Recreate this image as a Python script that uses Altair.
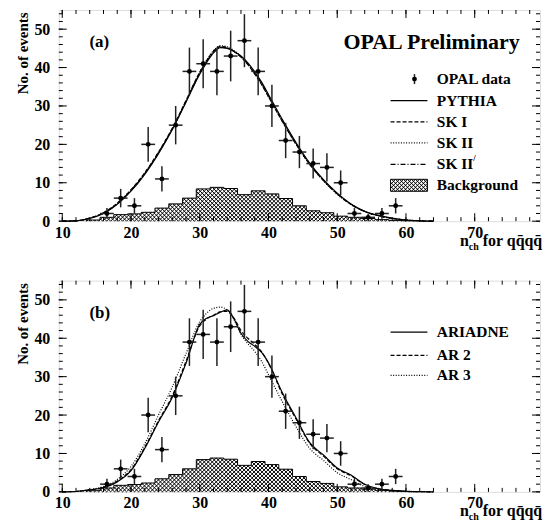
import math
import altair as alt
import numpy as np
import pandas as pd

# ---------------- data ----------------
nch_centers = [16.5, 18.5, 20.5, 22.5, 24.5, 26.5, 28.5, 30.5, 32.5, 34.5, 36.5,
               38.5, 40.5, 42.5, 44.5, 46.5, 48.5, 50.5, 52.5, 54.5, 56.5, 58.5]
opal_counts = [2, 6, 4, 20, 11, 25, 39, 41, 39, 43, 47, 39, 30, 21, 18, 15, 14, 10, 2, 1, 2, 4]
opal_errors = [1.4, 2.4, 2.0, 4.5, 3.3, 5.0, 6.2, 6.4, 6.2, 6.6, 6.9, 6.2, 5.5, 4.6,
               4.2, 3.9, 3.7, 3.2, 1.4, 1.0, 1.4, 2.0]
bin_half_width = 1.0

bkg_centers = [14.5, 16.5, 18.5, 20.5, 22.5, 24.5, 26.5, 28.5, 30.5, 32.5, 34.5, 36.5,
               38.5, 40.5, 42.5, 44.5, 46.5, 48.5, 50.5, 52.5, 54.5, 56.5, 58.5, 60.5]
bkg_values = [0.3, 1.0, 1.7, 1.9, 2.3, 3.4, 4.5, 6.0, 8.4, 8.8, 8.5, 6.9,
              7.9, 7.1, 5.9, 4.0, 2.7, 2.2, 1.3, 1.0, 0.7, 0.4, 0.2, 0.1]

curve_x = [10, 12, 14, 16, 18, 20, 22, 24, 26, 28, 30, 31, 32, 33, 34, 35, 36, 37, 38, 39,
           40, 42, 44, 46, 48, 50, 52, 54, 56, 58, 60, 62, 64]
pythia = [0, 0.1, 0.7, 2.0, 4.4, 7.8, 12.2, 17.6, 23.8, 31.0, 38.3, 41.3, 43.8, 45.2, 45.0, 44.2,
          43.0, 41.2, 38.9, 36.2, 33.0, 26.5, 20.5, 15.1, 10.8, 7.3, 4.5, 2.6, 1.5, 0.8, 0.3, 0.1, 0]
sk1 = [0, 0.1, 0.8, 2.2, 4.7, 8.2, 12.6, 18.0, 24.2, 31.4, 38.8, 41.8, 44.3, 45.5, 45.2, 44.2,
       42.7, 40.8, 38.3, 35.6, 32.4, 26.0, 20.1, 14.8, 10.6, 7.1, 4.4, 2.5, 1.4, 0.7, 0.3, 0.1, 0]
sk2 = [0, 0.1, 0.8, 2.1, 4.6, 8.1, 12.5, 17.9, 24.1, 31.3, 38.8, 41.9, 44.4, 45.7, 45.4, 44.4,
       42.9, 40.9, 38.4, 35.6, 32.4, 26.0, 20.0, 14.7, 10.5, 7.0, 4.3, 2.5, 1.4, 0.7, 0.3, 0.1, 0]
sk2p = [0, 0.1, 0.8, 2.1, 4.5, 8.0, 12.4, 17.8, 24.0, 31.2, 38.6, 41.6, 44.1, 45.3, 45.1, 44.2,
        42.8, 40.8, 38.5, 35.8, 32.6, 26.2, 20.2, 14.9, 10.6, 7.1, 4.4, 2.5, 1.4, 0.7, 0.3, 0.1, 0]
ariadne = [0, 0.1, 0.5, 1.1, 2.6, 5.5, 11.3, 18.2, 24.6, 33.5, 43.6, 45.2, 45.9, 46.8, 47.4, 45.0,
           41.3, 39.2, 37.9, 36.3, 33.6, 25.9, 19.3, 12.8, 9.6, 6.2, 4.4, 2.0, 0.8, 0.4, 0.15, 0.05, 0]
ar2 = [0, 0.1, 0.5, 1.2, 2.8, 5.8, 11.6, 18.5, 25.0, 34.0, 43.2, 45.0, 46.0, 46.9, 47.0, 45.2,
       42.0, 40.0, 38.4, 36.5, 33.5, 25.5, 19.0, 12.6, 9.3, 6.0, 4.2, 1.9, 0.8, 0.4, 0.15, 0.05, 0]
ar3 = [0, 0.1, 0.6, 1.4, 3.2, 6.6, 12.5, 20.0, 27.3, 36.0, 44.3, 46.5, 47.8, 48.1, 47.3, 44.8,
       41.0, 38.6, 36.6, 34.0, 30.5, 23.5, 17.0, 11.3, 8.2, 5.0, 3.2, 1.4, 0.6, 0.3, 0.1, 0.05, 0]

x_label_values = [10, 20, 30, 40, 50, 60, 70]
y_label_values = [0, 10, 20, 30, 40, 50]
x_minor_ticks = list(range(10, 80, 2))
y_minor_ticks = list(range(0, 56, 2))

# ---------------- layout / style ----------------
W, H = 483, 212
XDOM = [9.5, 79.5]
YDOM = [0, 55]
FONT = "Liberation Serif"
SX = W / (XDOM[1] - XDOM[0])
SY = H / (YDOM[1] - YDOM[0])

xscale = alt.Scale(domain=XDOM, nice=False, zero=False)
yscale = alt.Scale(domain=YDOM, nice=False, zero=False)
xaxis = alt.Axis(values=x_label_values, ticks=False, domain=False, grid=False,
                 labelFont=FONT, labelFontWeight="bold", labelFontSize=16,
                 labelPadding=3, labelColor="black", labelFlush=False, title=None)
yaxis = alt.Axis(values=y_label_values, ticks=False, domain=False, grid=False,
                 labelFont=FONT, labelFontWeight="bold", labelFontSize=16,
                 labelPadding=9, labelColor="black",
                 title="No. of events", titleFont=FONT, titleFontWeight="bold",
                 titleFontSize=15, titleColor="black", titleAngle=-90,
                 titleX=-36, titleY=2, titleAlign="right", titleBaseline="middle")


def X(field):
    return alt.X(field, type="quantitative", scale=xscale, axis=xaxis)


def Y(field):
    return alt.Y(field, type="quantitative", scale=yscale, axis=yaxis)


def one():
    return alt.Chart(pd.DataFrame({"k": [0]}))


def hatch_segments(rects, period=4.0):
    """Cross-hatch (45 degree) line segments clipped to rectangles given in data units."""
    out = []
    for xa, xb, ya, yb in rects:
        Xa, Xb = (xa - XDOM[0]) * SX, (xb - XDOM[0]) * SX
        Ya, Yb = ya * SY, yb * SY
        if Yb - Ya <= 0:
            continue
        # family X + Y = c
        for k in range(math.ceil((Xa + Ya) / period), math.floor((Xb + Yb) / period) + 1):
            c = k * period
            lo, hi = max(Xa, c - Yb), min(Xb, c - Ya)
            if hi - lo > 1e-6:
                out.append((lo, c - lo, hi, c - hi))
        # family X - Y = c
        for k in range(math.ceil((Xa - Yb) / period), math.floor((Xb - Ya) / period) + 1):
            c = k * period
            lo, hi = max(Xa, c + Ya), min(Xb, c + Yb)
            if hi - lo > 1e-6:
                out.append((lo, lo - c, hi, hi - c))
    df = pd.DataFrame(out, columns=["X1", "Y1", "X2", "Y2"])
    return pd.DataFrame({"x1": df.X1 / SX + XDOM[0], "y1": df.Y1 / SY,
                         "x2": df.X2 / SX + XDOM[0], "y2": df.Y2 / SY})


def hatch_layer(rects):
    df = hatch_segments(rects)
    return alt.Chart(df).mark_rule(color="black", strokeWidth=1.0).encode(
        x=X("x1"), x2="x2", y=Y("y1"), y2="y2")


def background_layers():
    rects = [(c - 1, c + 1, 0.0, v) for c, v in zip(bkg_centers, bkg_values)]
    xs = [c - 1 for c in bkg_centers] + [bkg_centers[-1] + 1]
    ox = [xs[0]] + xs + [xs[-1]]
    oy = [0] + bkg_values + [bkg_values[-1], 0]
    odf = pd.DataFrame({"x": ox, "y": oy, "i": list(range(len(ox)))})
    outline = alt.Chart(odf).mark_line(interpolate="step-after", color="black", strokeWidth=1).encode(
        x=X("x"), y=Y("y"), order="i:Q")
    return [hatch_layer(rects), outline]


def curve_layer(values, dash):
    df = pd.DataFrame({"x": curve_x, "y": values})
    kw = dict(color="black", strokeWidth=1.2, interpolate="monotone")
    if dash:
        kw["strokeDash"] = dash
    return alt.Chart(df).mark_line(**kw).encode(x=X("x"), y=Y("y"))


def data_layers():
    df = pd.DataFrame({"x": nch_centers, "y": opal_counts, "e": opal_errors})
    df["lo"] = df["y"] - df["e"]
    df["hi"] = df["y"] + df["e"]
    df["xl"] = df["x"] - bin_half_width
    df["xr"] = df["x"] + bin_half_width
    base = alt.Chart(df)
    v = base.mark_rule(color="#222222", strokeWidth=1.5).encode(x=X("x"), y=Y("lo"), y2="hi")
    h = base.mark_rule(color="#222222", strokeWidth=1.5).encode(x=X("xl"), x2="xr", y=Y("y"))
    p = base.mark_circle(color="black", size=24, opacity=1).encode(x=X("x"), y=Y("y"))
    return [v, h, p]


def tick_layers():
    L = []
    for vals, ln in ((x_label_values, 8), (x_minor_ticks, 4)):
        src = alt.Chart(pd.DataFrame({"t": vals}))
        L.append(src.mark_rule(color="black", strokeWidth=1).encode(x=X("t"), y=alt.value(H), y2=alt.value(H - ln)))
        L.append(src.mark_rule(color="black", strokeWidth=1).encode(x=X("t"), y=alt.value(0), y2=alt.value(ln)))
    for vals, ln in ((y_label_values, 8), (y_minor_ticks, 4)):
        src = alt.Chart(pd.DataFrame({"t": vals}))
        L.append(src.mark_rule(color="black", strokeWidth=1).encode(y=Y("t"), x=alt.value(0), x2=alt.value(ln)))
        L.append(src.mark_rule(color="black", strokeWidth=1).encode(y=Y("t"), x=alt.value(W), x2=alt.value(W - ln)))
    return L


def text(s, x, y, size=15.5, align="left", baseline="middle"):
    return one().mark_text(font=FONT, fontWeight="bold", fontSize=size, align=align,
                           baseline=baseline, color="black").encode(
        x=alt.value(x), y=alt.value(y), text=alt.value(s))


LEG_X1, LEG_X2, LEG_TX = 333.0, 370.0, 379.4


def legend_line(y, dash):
    kw = dict(color="black", strokeWidth=1.2)
    if dash:
        kw["strokeDash"] = dash
    return one().mark_rule(**kw).encode(x=alt.value(LEG_X1), x2=alt.value(LEG_X2), y=alt.value(y))


def legend_data(y):
    v = one().mark_rule(color="#222222", strokeWidth=1.5).encode(
        x=alt.value(357), y=alt.value(y - 5), y2=alt.value(y + 5))
    p = one().mark_circle(color="black", size=24, opacity=1).encode(x=alt.value(357), y=alt.value(y))
    return [v, p]


def legend_hatch(y):
    # legend box given in pixels, converted to data units so the hatch helper can be reused
    xa, xb = XDOM[0] + LEG_X1 / SX, XDOM[0] + LEG_X2 / SX
    ya, yb = (H - (y + 6)) / SY, (H - (y - 6)) / SY
    box = one().mark_rect(fill="rgba(0,0,0,0)", stroke="black", strokeWidth=1).encode(
        x=alt.value(LEG_X1), x2=alt.value(LEG_X2), y=alt.value(y - 6), y2=alt.value(y + 6))
    return [hatch_layer([(xa, xb, ya, yb)]), box]


def xtitle_layers():
    base_y = 236.7
    return [
        text("n", 402.7, base_y, size=16, baseline="alphabetic"),
        text("ch", 411.5, base_y + 4, size=10, baseline="alphabetic"),
        text("for qq\u0304qq\u0304", 425.5, base_y, size=16, baseline="alphabetic"),
    ]


DASH = [4, 2]
DOT = [1, 1.6]
DASHDOT = [5, 2, 1, 2]

# ---------------- panel (a) ----------------
la = []
la += background_layers()
la += [curve_layer(sk2p, DASHDOT), curve_layer(sk2, DOT), curve_layer(sk1, DASH), curve_layer(pythia, None)]
la += data_layers()
la += tick_layers()
leg_a = [69.4, 91.0, 112.4, 133.4, 155.0, 176.0]
la += legend_data(leg_a[0])
la += [legend_line(leg_a[1], None), legend_line(leg_a[2], DASH),
       legend_line(leg_a[3], DOT), legend_line(leg_a[4], DASHDOT)]
la += legend_hatch(leg_a[5])
la += [text("OPAL data", LEG_TX, leg_a[0]), text("PYTHIA", LEG_TX, leg_a[1]),
       text("SK I", LEG_TX, leg_a[2]), text("SK II", LEG_TX, leg_a[3]),
       text("SK II", LEG_TX, leg_a[4]), text("/", LEG_TX + 36.5, leg_a[4] - 6, size=9),
       text("Background", LEG_TX, leg_a[5])]
la += [text("OPAL Preliminary", 285.7, 38.7, size=22, baseline="alphabetic"),
       text("(a)", 30.7, 31.7, size=17)]
la += xtitle_layers()
panel_a = alt.layer(*la).properties(width=W, height=H)

# ---------------- panel (b) ----------------
lb = []
lb += background_layers()
lb += [curve_layer(ar3, DOT), curve_layer(ar2, DASH), curve_layer(ariadne, None)]
lb += data_layers()
lb += tick_layers()
leg_b = [51.7, 75.0, 95.0]
lb += [legend_line(leg_b[0], None), legend_line(leg_b[1], DASH), legend_line(leg_b[2], DOT)]
lb += [text("ARIADNE", LEG_TX, leg_b[0]), text("AR 2", LEG_TX, leg_b[1]), text("AR 3", LEG_TX, leg_b[2])]
lb += [text("(b)", 30.7, 32.5, size=17)]
lb += xtitle_layers()
panel_b = alt.layer(*lb).properties(width=W, height=H)

chart = alt.vconcat(panel_a, panel_b, spacing=59.7, bounds="flush").properties(
    padding={"left": 7, "top": 0, "right": 0, "bottom": 0}
).configure_view(stroke="black", strokeWidth=1.5).configure(background="white")

chart.save("out.html", embed_options={"renderer": "svg", "actions": False})
